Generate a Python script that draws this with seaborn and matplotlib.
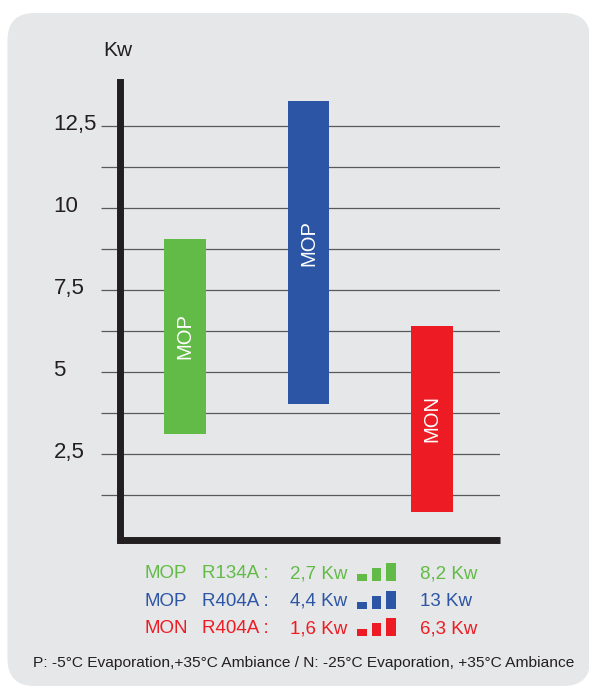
import pandas as pd
import matplotlib.pyplot as plt
import seaborn as sns
from matplotlib.patches import FancyBboxPatch
from matplotlib.transforms import ScaledTranslation

# operating ranges (Kw)
modes = ["MOP", "MOP", "MON"]
refrigerants = ["R134A", "R404A", "R404A"]
range_low = [3.13, 4.04, 0.76]
range_high = [9.06, 13.26, 6.41]
bar_colors = ["#62bb46", "#2d55a5", "#ed1c24"]

# legend text
legend_min = ["2,7 Kw", "4,4 Kw", "1,6 Kw"]
legend_max = ["8,2 Kw", "13 Kw", "6,3 Kw"]
icon_steps = [7, 13, 18.5]

y_ticks = [2.5, 5, 7.5, 10, 12.5]
y_tick_labels = ["2,5", "5", "7,5", "10", "12,5"]
y_minor = [1.25, 3.75, 6.25, 8.75, 11.25]

footer = "P: -5°C Evaporation,+35°C Ambiance / N: -25°C Evaporation, +35°C Ambiance"

W, H = 589, 687
dark = "#231f20"
line_grey = "#58595b"


def fx(px):
    return px / W


def fy(py):
    return 1 - py / H


sns.set_theme(style="white")
plt.rcParams["font.family"] = ["Liberation Sans", "DejaVu Sans"]

fig = plt.figure(figsize=(W / 100, H / 100), dpi=100)
fig.patch.set_facecolor("white")

# rounded grey panel behind everything
panel = FancyBboxPatch((0.075, 0.01), 5.83, 6.73,
                       boxstyle="round,pad=0,rounding_size=0.27",
                       transform=fig.dpi_scale_trans,
                       facecolor="#e6e7e8", edgecolor="none", zorder=-5)
fig.patches.append(panel)

ax = fig.add_axes([fx(120), fy(540.3), fx(499.6) - fx(120), (540.3 - 81.7) / H])
ax.set_facecolor("none")

df = pd.DataFrame({
    "bar": [f"{m} {r}" for m, r in zip(modes, refrigerants)],
    "low": range_low,
    "span": [h - l for l, h in zip(range_low, range_high)],
})

# floating bars: height = span, lifted by the low end of the range
sns.barplot(data=df, x="bar", y="span", bottom=df["low"].values,
            width=0.337, errorbar=None, color=bar_colors[0],
            saturation=1, ax=ax)
for patch, c in zip(ax.patches, bar_colors):
    patch.set_facecolor(c)
    patch.set_edgecolor("none")
    patch.set_linewidth(0)

# white labels inside the bars (blue one sits a little above centre)
label_shift = [0, 0.3, 0]
for i, (m, lo, hi) in enumerate(zip(modes, range_low, range_high)):
    ax.text(i, (lo + hi) / 2 + label_shift[i], m, rotation=90,
            ha="center", va="center", color="white", fontsize=14.5)

ax.set_xlim(-0.524, 2.547)
ax.set_ylim(-0.115, 13.85)
ax.set_xticks([])
ax.set_xlabel("")
ax.set_ylabel("")

ax.set_yticks(y_ticks)
ax.set_yticklabels(y_tick_labels, ha="left")
ax.set_yticks(y_minor, minor=True)
ax.tick_params(axis="y", which="both", left=True, length=13.9, width=0.9,
               color=line_grey)
ax.tick_params(axis="y", which="major", pad=34, labelsize=16, labelcolor=dark)
lift = ScaledTranslation(0, 0.04, fig.dpi_scale_trans)
for lab in ax.get_yticklabels():
    lab.set_transform(lab.get_transform() + lift)
ax.grid(axis="y", which="both", color=line_grey, linewidth=0.9)
ax.set_axisbelow(True)

sns.despine(ax=ax)
for s in ["left", "bottom"]:
    ax.spines[s].set_linewidth(5.0)
    ax.spines[s].set_color(dark)
ax.spines["left"].set_capstyle("projecting")
ax.spines["bottom"].set_capstyle("butt")

fig.text(fx(103.3), fy(56), "Kw", fontsize=15, color=dark, va="baseline")

# coloured legend rows under the chart
row_baselines = [578.3, 606, 633.3]
for i, b in enumerate(row_baselines):
    c = bar_colors[i]
    kw = dict(fontsize=13.5, color=c, va="baseline")
    fig.text(fx(144), fy(b), modes[i], **kw)
    fig.text(fx(201.7), fy(b), refrigerants[i] + " :", **kw)
    fig.text(fx(290), fy(b), legend_min[i], **kw)
    fig.text(fx(420), fy(b), legend_max[i], **kw)

    iax = fig.add_axes([fx(354.75), fy(b + 3), 43.5 / W, 19 / H])
    iax.set_facecolor("none")
    sns.barplot(x=[0, 1, 2], y=icon_steps, color=c, saturation=1,
                width=0.655, errorbar=None, ax=iax)
    for patch in iax.patches:
        patch.set_edgecolor("none")
    iax.set_xlim(-0.5, 2.5)
    iax.set_ylim(0, 19)
    iax.axis("off")

fig.text(fx(32.7), fy(667.3), footer, fontsize=11.15, color=dark, va="baseline")

fig.savefig("out.png", dpi=100)
plt.close(fig)
